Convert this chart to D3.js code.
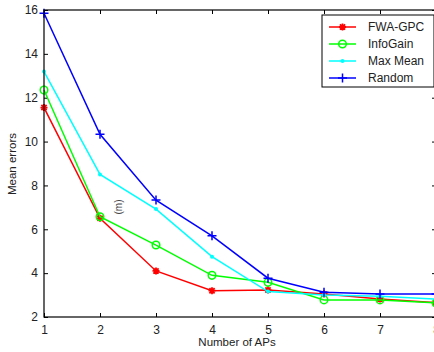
<!DOCTYPE html>
<html>
<head>
<meta charset="utf-8">
<script src="https://cdn.jsdelivr.net/npm/d3@7"></script>
<style>
  body { margin: 0; background: #fff; }
  text { font-family: "Liberation Sans", Arial, sans-serif; }
</style>
</head>
<body>
<script>
var apCounts = [1, 2, 3, 4, 5, 6, 7, 8];
var fwaGpc   = [11.55, 6.5, 4.1, 3.2, 3.23, 3.05, 2.82, 2.65];
var infoGain = [12.35, 6.57, 5.28, 3.9, 3.58, 2.78, 2.78, 2.64];
var maxMean  = [13.19, 8.5, 6.92, 4.75, 3.16, 3.0, 2.95, 2.82];
var random   = [15.85, 10.33, 7.33, 5.7, 3.77, 3.13, 3.05, 3.05];
var yTicks   = [2, 4, 6, 8, 10, 12, 14, 16];

var series = [
  {name: "FWA-GPC",  values: fwaGpc,   color: "#ff0000", marker: "star"},
  {name: "InfoGain", values: infoGain, color: "#00ff00", marker: "circle"},
  {name: "Max Mean", values: maxMean,  color: "#00ffff", marker: "dot"},
  {name: "Random",   values: random,   color: "#0000ff", marker: "plus"}
];

var svg = d3.select("body").append("svg")
  .attr("width", 434)
  .attr("height", 352);

var plotLeft = 44, plotRight = 436, plotTop = 10, plotBottom = 317;

var x = d3.scaleLinear().domain([1, 8]).range([plotLeft, plotRight]);
var y = d3.scaleLinear().domain([2, 16]).range([plotBottom, plotTop]);

// axes, ticks inside like matlab
svg.append("g")
  .attr("transform", "translate(0," + plotBottom + ")")
  .call(d3.axisBottom(x).tickValues(apCounts).tickSize(-4).tickPadding(8).tickFormat(d3.format("d")))
  .call(g => g.select(".domain").remove());
svg.append("g")
  .attr("transform", "translate(0," + plotTop + ")")
  .call(d3.axisTop(x).tickValues(apCounts).tickSize(-4).tickFormat(""))
  .call(g => g.select(".domain").remove());
svg.append("g")
  .attr("transform", "translate(" + plotLeft + ",0)")
  .call(d3.axisLeft(y).tickValues(yTicks).tickSize(-4).tickPadding(6))
  .call(g => g.select(".domain").remove());
svg.append("g")
  .attr("transform", "translate(" + plotRight + ",0)")
  .call(d3.axisRight(y).tickValues(yTicks).tickSize(-4).tickFormat(""))
  .call(g => g.select(".domain").remove());

svg.selectAll(".tick text")
  .attr("font-size", 12)
  .attr("font-family", "Liberation Sans, Arial, sans-serif")
  .attr("fill", "#222");
svg.selectAll(".tick line").attr("stroke", "#000");

var line = d3.line()
  .x((d, i) => x(apCounts[i]))
  .y(d => y(d));

function drawMarker(g, type, color) {
  if (type == "star") {
    g.append("path").attr("d", "M-3.5,0H3.5M0,-3.5V3.5M-2.6,-2.6L2.6,2.6M-2.6,2.6L2.6,-2.6")
      .attr("stroke", color).attr("stroke-width", 1.8);
  } else if (type == "circle") {
    g.append("circle").attr("r", 3.8).attr("fill", "none")
      .attr("stroke", color).attr("stroke-width", 1.5);
  } else if (type == "dot") {
    g.append("circle").attr("r", 2).attr("fill", color);
  } else {
    g.append("path").attr("d", "M-4.5,0H4.5M0,-4.5V4.5")
      .attr("stroke", color).attr("stroke-width", 1.5);
  }
}

series.forEach(function (s) {
  svg.append("path")
    .datum(s.values)
    .attr("d", line)
    .attr("fill", "none")
    .attr("stroke", s.color)
    .attr("stroke-width", 1.5);
  s.values.forEach(function (v, i) {
    var g = svg.append("g").attr("transform", "translate(" + x(apCounts[i]) + "," + y(v) + ")");
    drawMarker(g, s.marker, s.color);
  });
});

// box
svg.append("rect")
  .attr("x", plotLeft).attr("y", plotTop)
  .attr("width", plotRight - plotLeft).attr("height", plotBottom - plotTop)
  .attr("fill", "none").attr("stroke", "#000").attr("stroke-width", 1.2);

// stray label left in the plot
svg.append("text")
  .attr("transform", "translate(122,207) rotate(-90)")
  .attr("text-anchor", "middle")
  .attr("font-size", 10)
  .attr("fill", "#444")
  .text("(m)");

// legend
var legend = svg.append("g").attr("transform", "translate(322,15)");
legend.append("rect")
  .attr("width", 112).attr("height", 72)
  .attr("fill", "#fff").attr("stroke", "#000").attr("stroke-width", 1);
series.forEach(function (s, i) {
  var ly = 12 + i * 17;
  legend.append("line")
    .attr("x1", 7).attr("x2", 34).attr("y1", ly).attr("y2", ly)
    .attr("stroke", s.color).attr("stroke-width", 1.5);
  drawMarker(legend.append("g").attr("transform", "translate(20.5," + ly + ")"), s.marker, s.color);
  legend.append("text")
    .attr("x", 46).attr("y", ly + 4)
    .attr("font-size", 12)
    .attr("fill", "#222")
    .text(s.name);
});

// axis labels
svg.append("text")
  .attr("x", 237).attr("y", 346)
  .attr("text-anchor", "middle")
  .attr("font-size", 11.5)
  .attr("fill", "#222")
  .text("Number of APs");
svg.append("text")
  .attr("transform", "translate(16,164) rotate(-90)")
  .attr("text-anchor", "middle")
  .attr("font-size", 11.5)
  .attr("fill", "#222")
  .text("Mean errors");
</script>
</body>
</html>
